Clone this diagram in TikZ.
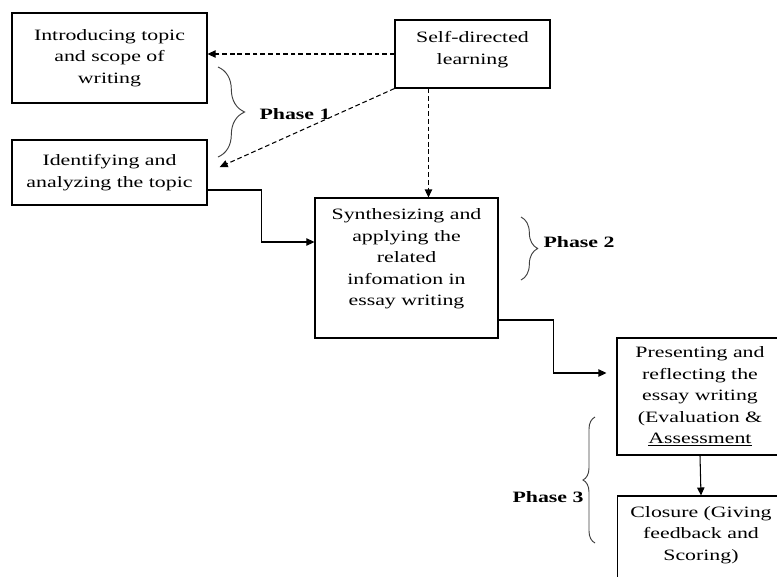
\documentclass[tikz,border=0pt]{standalone}
\usepackage{fontspec}
\setmainfont{Liberation Serif}[FakeStretch=1.38]
\usepackage{tikz}
\usetikzlibrary{arrows.meta,calc,decorations.pathreplacing}

\begin{document}
\begin{tikzpicture}[x=0.03cm, y=-0.03cm,
  stepbox/.style={draw, line width=0.9pt, inner sep=0pt, align=center, font=\fontsize{13.5}{18.3}\selectfont},
  flowarrow/.style={-{Triangle[length=2.4mm,width=2.2mm]}, line width=0.9pt},
  selfarrow/.style={flowarrow, dash pattern=on 4pt off 2.5pt},
  phasebrace/.style={decorate, line width=0.8pt, draw=black!75},
  phaselabel/.style={font=\fontsize{13.5}{15}\selectfont\bfseries}]
\clip (0,0) rectangle (777,576);
% Phase 1 boxes
\node[stepbox, minimum width=5.85cm, minimum height=2.7cm] (intro) at (109.5,58) {Introducing topic\\and scope of\\writing};
\node[stepbox, minimum width=5.85cm, minimum height=1.95cm] (ident) at (109.5,172.5) {Identifying and\\analyzing the topic};
% Self-directed learning
\node[stepbox, minimum width=4.65cm, minimum height=2.04cm] (self) at (472.5,54) {Self-directed\\learning\\[-8pt]\mbox{}};
% Phase 2 box
\node[stepbox, minimum width=5.49cm, minimum height=4.2cm] (synth) at (406.5,268) {Synthesizing and\\applying the\\related\\infomation in\\essay writing\\\mbox{}};
% Phase 3 boxes
\node[stepbox, minimum width=4.98cm, minimum height=3.51cm] (pres) at (700,396.5) {Presenting and\\reflecting the\\essay writing\\(Evaluation \&\\\underline{Assessment}};
\node[stepbox, minimum width=5.0cm, minimum height=2.88cm] (clos) at (701,544) {Closure (Giving\\feedback and\\Scoring)\\\mbox{}};
% Phase labels
\node[phaselabel] (ph1) at (295,114) {Phase 1};
\node[phaselabel] (ph2) at (579,242) {Phase 2};
\node[phaselabel] (ph3) at (548,497) {Phase 3};
% Braces
\draw[phasebrace, decoration={brace, amplitude=0.8cm}] (218,67) -- (218,157);
\draw[phasebrace, decoration={brace, amplitude=0.5cm}] (521,217) -- (521,280);
\draw[phasebrace, decoration={brace, amplitude=0.36cm}] (595,543) -- (595,417);
% Connector points
\coordinate (selfout) at ($(self.south west)+(34,0)$);
\coordinate (identout) at ($(ident.east)+(0,17.5)$);
\coordinate (synthin) at ($(synth.west)+(0,-26)$);
\coordinate (synthout) at ($(synth.east)+(0,52)$);
\coordinate (presin) at ($(pres.west)+(0,-23.5)$);
% Arrows
\draw[selfarrow] (self.west) -- (self.west -| intro.east);
\draw[selfarrow, shorten >=0.4cm] (self.south west) -- (ident.east);
\draw[selfarrow] (selfout) -- (selfout |- synth.north);
\draw[flowarrow] (identout) -- ++(54,0) |- (synthin);
\draw[flowarrow, shorten >=0.3cm] (synthout) -- ++(55,0) |- (presin);
\draw[flowarrow] (pres.south) -- (clos.north);
\end{tikzpicture}
\end{document}
